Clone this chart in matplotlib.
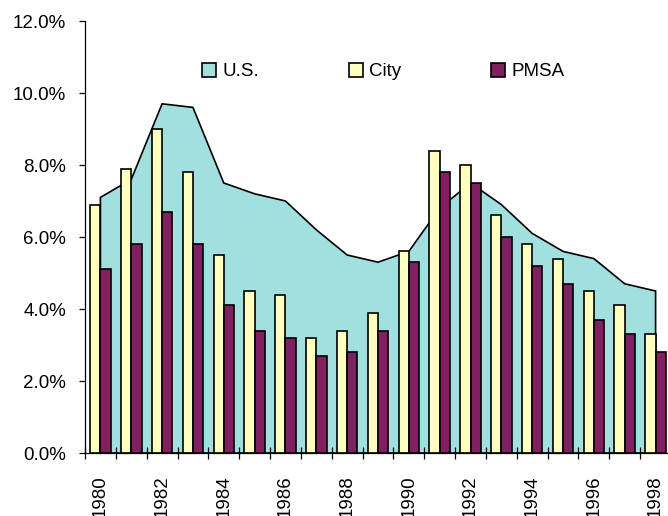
"""Unemployment rate: U.S. (area) vs City and PMSA (columns), 1980-1998."""

import matplotlib
matplotlib.use("Agg")

import matplotlib.pyplot as plt
from matplotlib.patches import Patch
from matplotlib.ticker import FixedLocator, FuncFormatter

years = list(range(1980, 1999))
us_rate = [7.1, 7.6, 9.7, 9.6, 7.5, 7.2, 7.0, 6.2, 5.5, 5.3,
           5.6, 6.8, 7.5, 6.9, 6.1, 5.6, 5.4, 4.7, 4.5]
city_rate = [6.9, 7.9, 9.0, 7.8, 5.5, 4.5, 4.4, 3.2, 3.4, 3.9,
             5.6, 8.4, 8.0, 6.6, 5.8, 5.4, 4.5, 4.1, 3.3]
pmsa_rate = [5.1, 5.8, 6.7, 5.8, 4.1, 3.4, 3.2, 2.7, 2.8, 3.4,
             5.3, 7.8, 7.5, 6.0, 5.2, 4.7, 3.7, 3.3, 2.8]

US_COLOR = "#A2E0E0"
CITY_COLOR = "#FFFFC0"
PMSA_COLOR = "#802060"

plt.rcParams.update({
    "font.family": ["Liberation Sans", "DejaVu Sans"],
    "font.size": 13.5,
})

fig = plt.figure(figsize=(6.68, 5.16), dpi=100)
ax = fig.add_axes([85 / 668, 63 / 516, 586 / 668, 432 / 516])

pos = list(range(len(years)))
width = 1 / 3

# U.S. as an area behind the columns, points at category centres
poly_x = [pos[0]] + pos + [pos[-1]]
poly_y = [0] + us_rate + [0]
ax.fill(poly_x, poly_y, facecolor=US_COLOR, edgecolor="black",
        linewidth=1.2, zorder=1)

ax.bar([p - width / 2 for p in pos], city_rate, width=width,
       color=CITY_COLOR, edgecolor="black", linewidth=1.2, zorder=2)
ax.bar([p + width / 2 for p in pos], pmsa_rate, width=width,
       color=PMSA_COLOR, edgecolor="black", linewidth=1.2, zorder=2)

ax.set_xlim(-0.5, len(years) - 0.5)
ax.set_ylim(0, 12)

for side in ("top", "right"):
    ax.spines[side].set_visible(False)
ax.spines["left"].set_linewidth(0.9)
ax.spines["bottom"].set_linewidth(0.9)

ax.set_yticks(range(0, 13, 2))
ax.yaxis.set_major_formatter(FuncFormatter(lambda v, _: f"{v:.1f}%"))
ax.tick_params(axis="y", direction="out", length=4.5, width=0.9, pad=9)

# category boundaries get the tick marks, every other year gets a label
ax.xaxis.set_major_locator(FixedLocator([p - 0.5 for p in pos] + [pos[-1] + 0.5]))
ax.xaxis.set_major_formatter(FuncFormatter(lambda v, _: ""))
ax.xaxis.set_minor_locator(FixedLocator(pos[::2]))
ax.set_xticklabels([str(y) for y in years[::2]], minor=True, rotation=90)
ax.tick_params(axis="x", which="major", direction="inout", length=9, width=0.9)
ax.tick_params(axis="x", which="minor", length=0, pad=16)

handles = [
    Patch(facecolor=US_COLOR, edgecolor="black", linewidth=1.2, label="U.S."),
    Patch(facecolor=CITY_COLOR, edgecolor="black", linewidth=1.2, label="City"),
    Patch(facecolor=PMSA_COLOR, edgecolor="black", linewidth=1.2, label="PMSA"),
]
fig.legend(handles=handles, loc="upper left", ncol=3, frameon=False,
           bbox_to_anchor=(202 / 668, 1 - 63 / 516), borderpad=0,
           borderaxespad=0, handlelength=0.75, handleheight=0.75,
           handletextpad=0.32, columnspacing=4.8)

fig.savefig("out.png", dpi=100)
